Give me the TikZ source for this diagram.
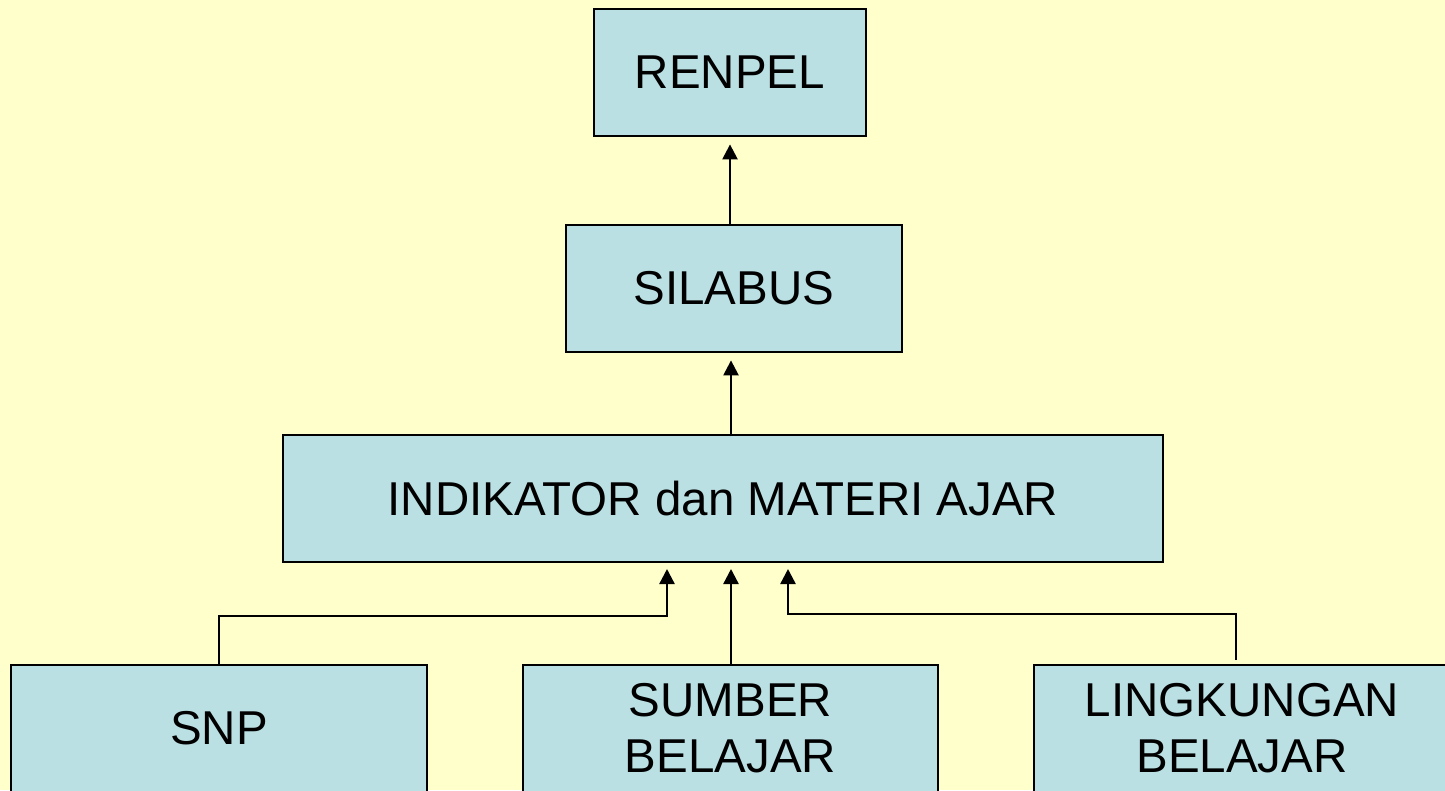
\documentclass[tikz,border=0pt]{standalone}
\usepackage{fontspec}
\setmainfont{Liberation Sans}
\usetikzlibrary{arrows.meta}
\definecolor{bgyellow}{HTML}{FFFFCC}
\definecolor{boxblue}{HTML}{BAE0E3}
\tikzset{
  box/.style={draw=black, line width=2.8pt, fill=boxblue, rectangle, inner sep=0pt,
    align=center, font=\fontsize{47.5}{56}\selectfont, text=black},
  arr/.style={draw=black, line width=2.4pt, -{Triangle[length=15pt,width=15pt]}, shorten >=7pt},
}
\begin{document}
\begin{tikzpicture}[x=1pt,y=-1pt]
\fill[bgyellow] (0,0) rectangle (1445,790);
\useasboundingbox (0,0) rectangle (1445,790);
\clip (0,0) rectangle (1445,790);
\node[box, minimum width=272pt, minimum height=127pt] (renpel) at (730,72.5) {RENPEL};
\node[box, minimum width=336pt, minimum height=127pt] (silabus) at (734,288.5) {SILABUS};
\node[box, minimum width=880pt, minimum height=127pt] (indikator) at (723,498.5) {INDIKATOR dan MATERI AJAR};
\node[box, minimum width=416pt, minimum height=127pt] (snp) at (219,728.5) {SNP};
\node[box, minimum width=415pt, minimum height=127pt] (sumber) at (730.5,728.5) {SUMBER\\BELAJAR};
\node[box, minimum width=416pt, minimum height=127pt] (lingk) at (1242,728.5) {LINGKUNGAN\\BELAJAR};
\coordinate (inL) at (667,562);
\coordinate (inM) at (731,562);
\coordinate (inR) at (788,562);
\coordinate (lkTop) at (1236,660);
\draw[arr] (renpel.south |- silabus.north) -- (renpel.south);
\draw[arr] (silabus.south -| inM) ++(0,83) -- (silabus.south -| inM);
\draw[arr] (snp.north) |- (667,616) -- (inL);
\draw[arr] (sumber.north -| inM) -- (inM);
\draw[arr] (lkTop) |- (788,614) -- (inR);
\end{tikzpicture}
\end{document}
